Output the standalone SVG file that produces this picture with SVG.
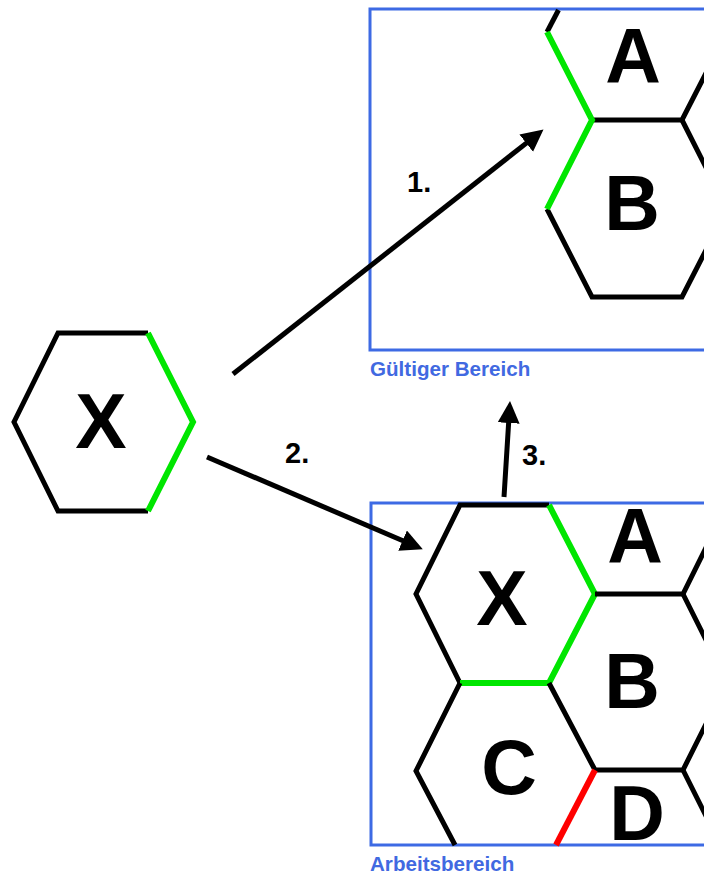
<svg xmlns="http://www.w3.org/2000/svg" width="704" height="875" viewBox="0 0 704 875">
  <style>
    .box { fill: none; stroke: #3d6ae4; stroke-width: 3; }
    .cap { font-family: "Liberation Sans", Arial, sans-serif; font-weight: bold; font-size: 20.6px; fill: #4169e1; }
    .edge { fill: none; stroke: #000; stroke-width: 5; stroke-linejoin: miter; stroke-linecap: butt; }
    .green { fill: none; stroke: #00e600; stroke-width: 6; stroke-linejoin: miter; stroke-linecap: butt; }
    .red { fill: none; stroke: #ff0000; stroke-width: 6; stroke-linecap: butt; }
    .big { font-family: "Liberation Sans", Arial, sans-serif; font-weight: bold; font-size: 77px; fill: #000; text-anchor: middle; }
    .num { font-family: "Liberation Sans", Arial, sans-serif; font-weight: bold; font-size: 29px; fill: #000; }
    .arrow { fill: none; stroke: #000; stroke-width: 5; marker-end: url(#head); }
  </style>
  <defs>
    <marker id="head" markerUnits="userSpaceOnUse" markerWidth="26" markerHeight="24" refX="1" refY="11" orient="auto" viewBox="0 0 26 24">
      <path d="M0,0 L22,11 L0,22 Z" fill="#000"/>
    </marker>
  </defs>
  <rect width="704" height="875" fill="#fff"/>

  <g id="gueltiger-bereich">
    <rect class="box" x="370" y="9" width="360" height="341"/>
    <text class="cap" x="370" y="376">Gültiger Bereich</text>
  </g>
  <g id="arbeitsbereich">
    <rect class="box" x="371" y="503" width="360" height="342"/>
    <text class="cap" x="370" y="871">Arbeitsbereich</text>
  </g>

  <g id="hex-x-left">
    <polyline class="edge" points="148,511 58,511 14,422 58,333 148,333"/>
    <polyline class="green" points="148,333 193,422 148,511"/>
    <text class="big" x="101" y="448">X</text>
  </g>

  <g id="top-a">
    <line class="edge" x1="547" y1="32" x2="558.5" y2="10"/>
    <polyline class="edge" points="592,120 682,120 727,32"/>
    <text class="big" x="633" y="83">A</text>
  </g>
  <g id="top-b">
    <polyline class="edge" points="547,209 592,297 682,297 727,209 682,120 "/>
    <polyline class="green" points="547,32 592,120 547,209"/>
    <text class="big" x="632" y="230">B</text>
  </g>

  <g id="bottom-x">
    <polyline class="edge" points="549,505 460,505 416,594 460,683"/>
    <polyline class="green" points="549,505 595,594 549,683 460,683"/>
    <text class="big" x="502" y="625">X</text>
  </g>
  <g id="bottom-a">
    <polyline class="edge" points="595,594 683,594 727,505"/>
    <text class="big" x="635" y="563">A</text>
  </g>
  <g id="bottom-b">
    <polyline class="edge" points="549,683 595,770 683,770 727,682 683,594"/>
    <text class="big" x="632" y="708">B</text>
  </g>
  <g id="bottom-c">
    <polyline class="edge" points="460,683 416,771 455,845"/>
    <line class="red" x1="595" y1="770" x2="556" y2="845"/>
    <text class="big" x="509" y="794">C</text>
  </g>
  <g id="bottom-d">
    <line class="edge" x1="683" y1="770" x2="727" y2="858"/>
    <text class="big" x="637" y="840">D</text>
  </g>

  <g id="connectors">
    <line class="arrow" x1="233" y1="374" x2="527" y2="142.6"/>
    <line class="arrow" x1="207" y1="457" x2="403.5" y2="541"/>
    <line class="arrow" x1="504" y1="497" x2="508.7" y2="422"/>
    <text class="num" x="407" y="192">1.</text>
    <text class="num" x="285" y="463">2.</text>
    <text class="num" x="522" y="465">3.</text>
  </g>
</svg>
